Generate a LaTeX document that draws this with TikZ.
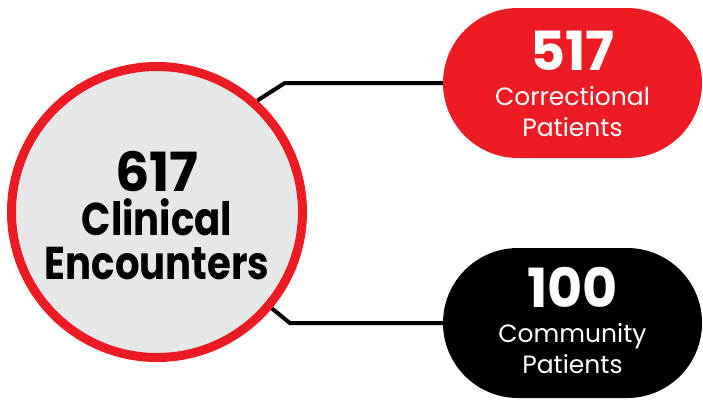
\documentclass[tikz,border=0pt]{standalone}
\usepackage{fontspec}
\setmainfont{Poppins}
\newfontfamily\wordfont[FakeStretch=0.84]{Poppins}
\usetikzlibrary{positioning}

\definecolor{brandred}{HTML}{ED1C24}
\definecolor{ringfill}{HTML}{E6E7E8}

\begin{document}
\begin{tikzpicture}[x=1pt,y=-1pt,
    total/.style={circle,draw=brandred,fill=ringfill,line width=9pt,
      minimum size=291pt,inner sep=0pt,align=center,
      font=\wordfont\bfseries\fontsize{46}{44}\selectfont},
    group/.style={rectangle,rounded corners=75pt,minimum width=259pt,
      minimum height=150pt,inner sep=0pt,align=center,text=white,
      font=\fontsize{25}{31}\selectfont},
    link/.style={line width=4pt,black}]

        \useasboundingbox (0,0) rectangle (703,400);

        \node[total] (enc) at (157,212)
          {{\normalfont\bfseries\fontsize{54}{44}\selectfont 617}\\Clinical\\Encounters\\[-50pt]};

        \begin{scope}[every node/.style={group}]
          \node[fill=brandred] (corr) at (572.5,83)
            {{\bfseries\fontsize{54}{31}\selectfont 517}\\[4pt]Correctional\\Patients\\[-32pt]};
          \node[fill=black] (comm) at (572.5,323)
            {{\bfseries\fontsize{54}{31}\selectfont 100}\\[4pt]Community\\Patients\\[-26pt]};
        \end{scope}

        \draw[link] (enc.48) -- ([xshift=-158pt]corr.west) -- (corr.west);
        \draw[link] (enc.-40) -- ([xshift=-153pt]comm.west) -- (comm.west);

      \end{tikzpicture}
\end{document}
